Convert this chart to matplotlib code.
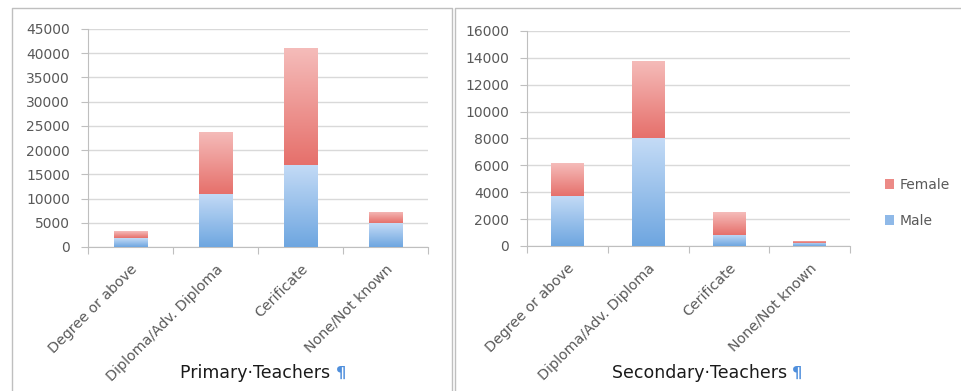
import numpy as np
import matplotlib
matplotlib.use("Agg")
import matplotlib.pyplot as plt
from matplotlib.colors import LinearSegmentedColormap
from matplotlib.lines import Line2D
from matplotlib.patches import Patch

categories = ["Degree or above", "Diploma/Adv. Diploma", "Cerificate", "None/Not known"]

primary_male = [1800, 11000, 17000, 4900]
primary_female = [1400, 12800, 24000, 2400]

secondary_male = [3750, 8000, 850, 250]
secondary_female = [2400, 5800, 1700, 150]

W, H = 961, 391
plt.rcParams["font.family"] = ["DejaVu Sans"]

BLUE_TOP, BLUE_BOT = "#c4dbf6", "#6ea6e0"
RED_TOP, RED_BOT = "#f5bcba", "#e6706b"
GRID = "#d9d9d9"
AXIS = "#bfbfbf"
TEXT = "#595959"


def px(x0, y0, x1, y1):
    # pixel box (top-left origin) -> figure fraction rect
    return [x0 / W, 1 - y1 / H, (x1 - x0) / W, (y1 - y0) / H]


def shade(ax, bars, top, bottom):
    cmap = LinearSegmentedColormap.from_list("g", [bottom, top])
    grad = np.linspace(0, 1, 128).reshape(-1, 1)
    for b in bars:
        x, y = b.get_x(), b.get_y()
        w, h = b.get_width(), b.get_height()
        im = ax.imshow(grad, cmap=cmap, origin="lower", aspect="auto",
                       extent=[x, x + w, y, y + h], zorder=3)
        im.set_clip_path(b)


def draw(ax, male, female, ymax, step):
    x = np.arange(len(categories))
    mb = ax.bar(x, male, width=0.4, color=BLUE_BOT, zorder=2, linewidth=0)
    fb = ax.bar(x, female, width=0.4, bottom=male, color=RED_BOT, zorder=2, linewidth=0)
    shade(ax, mb, BLUE_TOP, BLUE_BOT)
    shade(ax, fb, RED_TOP, RED_BOT)

    ax.set_xlim(-0.5, len(categories) - 0.5)
    ax.set_ylim(0, ymax)
    ax.set_yticks(np.arange(0, ymax + 1, step))
    ax.yaxis.grid(True, color=GRID, linewidth=1)
    ax.set_axisbelow(True)

    # category boundaries get the tick marks, names sit under the bars
    ax.set_xticks(np.arange(-0.5, len(categories)))
    ax.set_xticklabels([])
    ax.set_xticks(x, minor=True)
    ax.set_xticklabels(categories, minor=True, rotation=45, ha="right", va="top",
                       rotation_mode="anchor", color=TEXT, fontsize=10.3)
    ax.tick_params(axis="x", which="minor", length=0, pad=11)
    ax.tick_params(axis="x", which="major", length=5, color=AXIS, direction="out")
    ax.tick_params(axis="y", length=5, color=AXIS, labelcolor=TEXT, labelsize=10, pad=8)

    for s in ("top", "right"):
        ax.spines[s].set_visible(False)
    for s in ("left", "bottom"):
        ax.spines[s].set_color(AXIS)


fig = plt.figure(figsize=(W / 100, H / 100), dpi=100)
fig.patch.set_facecolor("white")

ax1 = fig.add_axes(px(88, 29, 428, 247))
draw(ax1, primary_male, primary_female, 45000, 5000)

ax2 = fig.add_axes(px(527, 31, 850, 246))
draw(ax2, secondary_male, secondary_female, 16000, 2000)

# chart titles below each panel
fig.canvas.draw()
for label, cx in (("Primary\u00b7Teachers ", 258), ("Secondary\u00b7Teachers ", 702)):
    t = fig.text(cx / W, 1 - 378 / H, label, ha="center", va="baseline",
                 fontsize=12.5, color="#1a1a1a")
    bb = t.get_window_extent(renderer=fig.canvas.get_renderer())
    fig.text(bb.x1 / W, 1 - 378 / H, "\u00b6", ha="left", va="baseline",
             fontsize=11.5, fontweight="bold", color="#4f8fdc")

# legend for the secondary panel
handles = [Patch(facecolor="#ec8a86", edgecolor="none"),
           Patch(facecolor="#8fb9e8", edgecolor="none")]
fig.legend(handles, ["Female", "Male"], loc="center left",
           bbox_to_anchor=(872 / W, 1 - 203 / H), frameon=False,
           handlelength=0.7, handleheight=0.7, handletextpad=0.4,
           labelspacing=1.6, fontsize=10, labelcolor=TEXT)

# panel frames
for xs, ys in (([12, 12, 452, 452], [391, 8, 8, 391]),
               ([455, 455, 961], [391, 8, 8])):
    fig.add_artist(Line2D([v / W for v in xs], [1 - v / H for v in ys],
                          transform=fig.transFigure, color=AXIS, linewidth=1))

fig.savefig("out.png", dpi=100)
